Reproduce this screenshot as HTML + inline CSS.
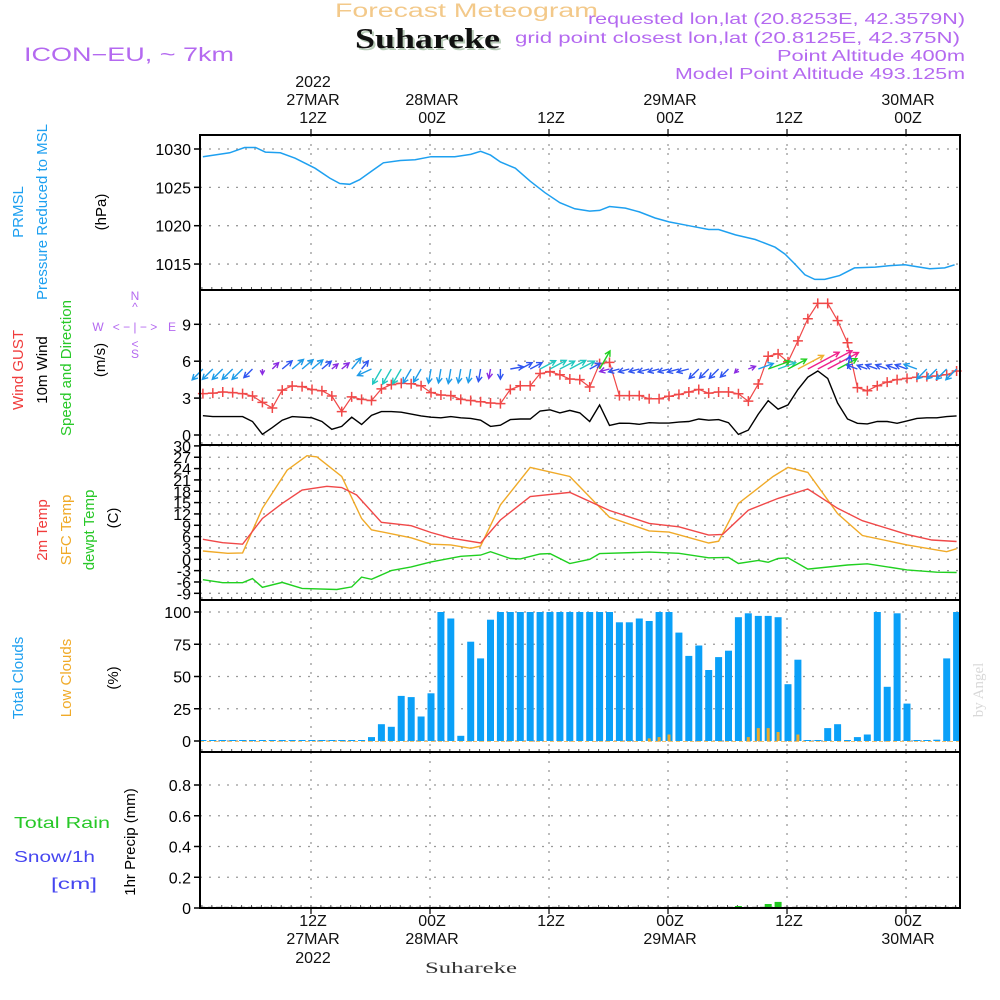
<!DOCTYPE html>
<html><head><meta charset="utf-8"><title>Meteogram Suhareke</title>
<style>
html,body{margin:0;padding:0;background:#fff;}
svg{display:block;font-family:"Liberation Sans","DejaVu Sans",sans-serif;}
</style></head>
<body>
<svg id="chart" width="1000" height="1000" viewBox="0 0 1000 1000">
<g id="header">
<text x="335" y="17" textLength="263" lengthAdjust="spacingAndGlyphs" font-size="19" fill="#f3c98a">Forecast Meteogram</text>
<text x="357" y="50" textLength="145" lengthAdjust="spacingAndGlyphs" font-size="29" font-weight="bold" font-family="'Liberation Serif',serif" fill="#b8ccb8">Suhareke</text>
<text x="355" y="48" textLength="145" lengthAdjust="spacingAndGlyphs" font-size="29" font-weight="bold" font-family="'Liberation Serif',serif" fill="#111">Suhareke</text>
<text x="24" y="61" textLength="210" lengthAdjust="spacingAndGlyphs" font-size="19" fill="#b469f0">ICON−EU, ~ 7km</text>
<text x="588" y="24" textLength="377" lengthAdjust="spacingAndGlyphs" font-size="16" fill="#b469f0">requested lon,lat (20.8253E, 42.3579N)</text>
<text x="515" y="43" textLength="445" lengthAdjust="spacingAndGlyphs" font-size="16" fill="#b469f0">grid point closest lon,lat (20.8125E, 42.375N)</text>
<text x="777" y="61" textLength="188" lengthAdjust="spacingAndGlyphs" font-size="16" fill="#b469f0">Point Altitude 400m</text>
<text x="675" y="79" textLength="290" lengthAdjust="spacingAndGlyphs" font-size="16" fill="#b469f0">Model Point Altitude 493.125m</text>
</g>
<g id="grid"></g>
<g id="marks"></g>
<g id="frames"></g>
<g id="labels">
<text transform="translate(23,212) rotate(-90)" text-anchor="middle" font-size="15" fill="#1ea0f0">PRMSL</text>
<text transform="translate(47,212) rotate(-90)" text-anchor="middle" font-size="15" fill="#1ea0f0">Pressure Reduced to MSL</text>
<text transform="translate(106,212) rotate(-90)" text-anchor="middle" font-size="15" fill="#000">(hPa)</text>
<text transform="translate(23,370) rotate(-90)" text-anchor="middle" font-size="15" fill="#f03c3c">Wind GUST</text>
<text transform="translate(47,370) rotate(-90)" text-anchor="middle" font-size="15" fill="#000">10m Wind</text>
<text transform="translate(71,368) rotate(-90)" text-anchor="middle" font-size="15" fill="#28c828">Speed and Direction</text>
<text transform="translate(105,360) rotate(-90)" text-anchor="middle" font-size="15" fill="#000">(m/s)</text>
<g font-size="12" fill="#b469f0">
<text x="135" y="300" text-anchor="middle">N</text>
<text x="135" y="311" text-anchor="middle">^</text>
<text x="98" y="331" text-anchor="middle">W</text>
<text x="135" y="331" text-anchor="middle">&lt; − | − &gt;</text>
<text x="172" y="331" text-anchor="middle">E</text>
<text x="135" y="348" text-anchor="middle">&lt;</text>
<text x="135" y="358" text-anchor="middle">S</text>
</g>
<text transform="translate(47,530) rotate(-90)" text-anchor="middle" font-size="15" fill="#f03c3c">2m Temp</text>
<text transform="translate(71,530) rotate(-90)" text-anchor="middle" font-size="15" fill="#f0aa28">SFC Temp</text>
<text transform="translate(94,530) rotate(-90)" text-anchor="middle" font-size="15" fill="#28c828">dewpt Temp</text>
<text transform="translate(118,518) rotate(-90)" text-anchor="middle" font-size="15" fill="#000">(C)</text>
<text transform="translate(23,678) rotate(-90)" text-anchor="middle" font-size="15" fill="#1ea0f0">Total Clouds</text>
<text transform="translate(71,678) rotate(-90)" text-anchor="middle" font-size="15" fill="#f0aa28">Low Clouds</text>
<text transform="translate(118,678) rotate(-90)" text-anchor="middle" font-size="15" fill="#000">(%)</text>
<text x="14" y="828" textLength="96" lengthAdjust="spacingAndGlyphs" font-size="16" fill="#28c828">Total  Rain</text>
<text x="14" y="862" textLength="81" lengthAdjust="spacingAndGlyphs" font-size="16" fill="#4646f0">Snow/1h</text>
<text x="51" y="889" textLength="46" lengthAdjust="spacingAndGlyphs" font-size="16" fill="#4646f0">[cm]</text>
<text transform="translate(135,842) rotate(-90)" text-anchor="middle" font-size="15" fill="#000">1hr Precip (mm)</text>
<text transform="translate(983,690) rotate(-90)" text-anchor="middle" font-size="15" font-family="'Liberation Serif',serif" fill="#d8d8d8">by Angel</text>
<text x="425" y="973" textLength="92" lengthAdjust="spacingAndGlyphs" font-size="16" font-family="'Liberation Serif',serif" fill="#333">Suhareke</text>
</g>
</svg>
<script>
// ---- data ----
const timeTickHours = [-12, 0, 12, 24, 36, 48];
const timeTickTop = [["2022","27MAR","12Z"],["","28MAR","00Z"],["","","12Z"],["","29MAR","00Z"],["","","12Z"],["","30MAR","00Z"]];
const timeTickBottom = [["12Z","27MAR","2022"],["00Z","28MAR",""],["12Z","",""],["00Z","29MAR",""],["12Z","",""],["00Z","30MAR",""]];

const pressureHours = [-23,-20.3,-18.8,-17.7,-16.7,-15.2,-13.7,-11.7,-10.2,-9.2,-8.2,-7.2,-5.9,-4.8,-3.1,-1.6,0,2.4,4,5,6,7,8.5,10,11.5,13,14.5,16,17,18,19.6,21,22.6,24,26,28,29,30.7,32.7,34.7,35.7,36.7,37.7,38.7,39.7,41.2,42.7,44.8,46.3,47.8,48.8,50.3,51.8,52.8];
const pressureValues = [1029,1029.5,1030.2,1030.2,1029.6,1029.5,1028.8,1027.5,1026.2,1025.5,1025.4,1026.0,1027.2,1028.2,1028.5,1028.6,1029.0,1029.0,1029.3,1029.7,1029.2,1028.3,1027.5,1025.8,1024.3,1023.0,1022.2,1021.9,1022.0,1022.5,1022.3,1021.8,1021.0,1020.5,1020.0,1019.5,1019.5,1018.8,1018.2,1017.2,1016.3,1015.0,1013.6,1013.0,1013.0,1013.5,1014.5,1014.6,1014.8,1014.9,1014.7,1014.4,1014.5,1014.9];
const pressureTicks = [1015,1020,1025,1030];

const firstHour = -23; // hourly series start (hours relative to 28MAR 00Z)
const gustValues = [3.36,3.4,3.5,3.45,3.36,3.17,2.65,2.2,3.65,3.98,3.93,3.7,3.6,3.17,1.9,3.1,2.9,2.8,3.75,4.1,4.2,4.17,4.0,3.45,3.25,3.2,2.9,2.8,2.7,2.6,2.55,3.7,4.0,4.0,5.0,5.15,4.9,4.55,4.5,3.9,5.8,5.9,3.2,3.2,3.2,2.95,2.95,3.15,3.3,3.5,3.7,3.4,3.5,3.5,3.35,2.75,4.15,6.4,6.6,5.95,7.65,9.45,10.7,10.7,9.3,7.5,3.85,3.6,4.0,4.3,4.5,4.6,4.7,4.75,4.8,4.9,5.2];
const windValues = [1.57,1.5,1.5,1.5,1.5,1.1,0.06,0.6,1.2,1.5,1.45,1.4,1.1,0.46,0.7,1.45,0.85,1.6,1.9,1.9,1.85,1.7,1.55,1.45,1.4,1.5,1.4,1.35,1.2,0.7,0.8,1.25,1.3,1.3,1.95,2.05,1.8,2.0,1.8,1.1,2.44,0.78,0.96,0.95,0.87,1.0,0.97,0.97,1.05,1.1,1.3,1.2,1.25,1.0,0.05,0.4,1.7,2.8,2.1,2.45,3.7,4.7,5.2,4.6,2.6,1.3,0.95,0.9,1.1,1.1,0.95,1.15,1.35,1.4,1.4,1.5,1.55];
const windDirTo = [225,225,225,225,225,225,180,45,50,50,50,50,50,50,50,40,40,245,210,210,210,210,210,190,190,190,190,190,190,190,180,80,62,62,62,62,62,62,62,62,30,255,255,255,255,255,255,255,255,255,225,225,225,225,225,70,70,70,70,62,62,62,62,62,62,10,290,290,290,290,290,290,290,225,225,225,225];
const windTicks = [0,3,6,9];

const t2mHours = [-23,-21,-19,-17,-15,-13,-10.5,-9,-7.5,-5,-2,0,2,5,7,10,14,18,22,25,28,29.4,32,35,38,41,43.5,48,50.5,53];
const t2mValues = [5.3,4.4,4.0,10.8,14.8,18.3,19.3,19.0,17,9.8,8.9,7.1,5.6,4.3,10.4,16.6,17.7,12.9,9.5,8.6,6.4,6.6,13,16.1,18.6,13.5,10.2,6.6,5.1,4.7];
const sfcHours = [-23,-20.5,-19,-17,-14.5,-12.5,-11.5,-9,-7,-6,-2,0,2,4,5,7,10,14,18,22,24,28,29,31,34.5,36,38,41,43.5,48,52,53];
const sfcValues = [2.2,1.6,1.7,13.5,23.6,27.4,27.1,21.9,10.8,7.8,5.7,4.0,3.8,2.9,3.5,14.4,24.3,21.9,11.1,7.5,7.2,4.3,4.8,14.8,21.9,24.3,23,12.1,6.3,3.8,2.0,2.8];
const dewHours = [-23,-21,-19,-18,-17,-15,-13,-9.5,-8,-7,-6,-4,-2,0,3,5,6,8,9,11,12,14,16,17,22,25,28,30,31,33,34,35,36,38,42,44,48,51,53];
const dewValues = [-5.4,-6.2,-6.2,-5.1,-7.4,-6.1,-7.7,-8.0,-7.3,-4.7,-5.3,-3.0,-2.0,-0.7,0.8,1.1,2,0.2,0.1,1.4,1.5,-1.1,0,1.5,1.9,1.6,0.4,0.5,-1.1,-0.3,-0.8,0.2,0.4,-2.6,-1.5,-1.2,-2.8,-3.4,-3.5];
const tempTicks = [30,27,24,21,18,15,12,9,6,3,0,-3,-6,-9];

const totalCloudValues = [0,0,0,0,0,0,0,0,0,0,0,0,0,0,0,0,0,3,13,11,35,34,19,37,100,95,4,77,64,94,100,100,100,100,100,100,100,100,100,100,100,100,92,92,95,93,100,100,84,66,74,55,65,70,96,99,97,97,96,44,63,0,0,10,13,0,3,5,100,42,99,29,0,0,1,64,100];
const lowCloudHours = [22,23,24,32,33,34,35,37];
const lowCloudValues = [2,3,5,3,10,10,7,5];
const cloudTicks = [0,25,50,75,100];

const rainHours = [31,33,34,35];
const rainValues = [0.013,0.006,0.026,0.04];
const precipTicks = [0,0.2,0.4,0.6,0.8];
const precipTickLabels = ["0","0.2","0.4","0.6","0.8"];

// ---- scales ----
const NS = "http://www.w3.org/2000/svg";
const X = h => 431 + h * 9.917;
const xLeft = 200, xRight = 960;
const panels = {
  pres: {top:135, bottom:290, y: v => 149 + (1030 - v) * 7.67},
  wind: {top:290, bottom:445, y: v => 435 - v * 12.3},
  temp: {top:445, bottom:600, y: v => 559.3 - v * 3.78},
  cloud:{top:600, bottom:752, y: v => 741 - v * 1.29},
  prec: {top:752, bottom:908, y: v => 908 - v * 153.75}
};
function mk(tag, attrs, parent) {
  const el = document.createElementNS(NS, tag);
  for (const k in attrs) el.setAttribute(k, attrs[k]);
  parent.appendChild(el);
  return el;
}
const grid = document.getElementById('grid');
const marks = document.getElementById('marks');
const frames = document.getElementById('frames');
const labels = document.getElementById('labels');

for (const key in panels) {
  const p = panels[key];
  timeTickHours.forEach(h => {
    const l = mk('line', {x1:X(h)-1, x2:X(h)-1, y1:p.top, y2:p.bottom, stroke:'#999', 'stroke-width':1.3, 'stroke-dasharray':'2,7'}, grid);
    
    
  });
  for (let h = -23; h <= 53; h++) {
    const t = mk('line', {x1:X(h)-1, x2:X(h)-1, y1:p.bottom-3, y2:p.bottom, stroke:'#555', 'stroke-width':1}, grid);
    
    
  }
}
function yAxis(p, ticks, texts, name) {
  ticks.forEach((v, i) => {
    const y = p.y(v);
    const g = mk('line', {x1:xLeft, x2:xRight, y1:y, y2:y, stroke:'#999', 'stroke-width':1.3, 'stroke-dasharray':'2,7'}, grid);
    
    
    const t = mk('line', {x1:xLeft-6, x2:xLeft, y1:y, y2:y, stroke:'#000', 'stroke-width':1.5}, frames);
    
    
    const tx = mk('text', {x:xLeft-9, y:y+6, 'text-anchor':'end', 'font-size':16, fill:'#000'}, labels);
    tx.textContent = texts ? texts[i] : String(v);
    
    
  });
}
yAxis(panels.pres, pressureTicks, null, 'pressure-axis');
yAxis(panels.wind, windTicks, null, 'wind-axis');
yAxis(panels.temp, tempTicks, null, 'temp-axis');
yAxis(panels.cloud, cloudTicks, null, 'cloud-axis');
yAxis(panels.prec, precipTicks, precipTickLabels, 'precip-axis');

timeTickHours.forEach((h, i) => {
  const x = X(h) + 1;
  [87, 105, 123].forEach((yy, j) => {
    if (!timeTickTop[i][j]) return;
    const t = mk('text', {x:x, y:yy, 'text-anchor':'middle', 'font-size':16, fill:'#111'}, labels);
    t.textContent = timeTickTop[i][j];
    
    
  });
  [926, 944, 963].forEach((yy, j) => {
    if (!timeTickBottom[i][j]) return;
    const t = mk('text', {x:x, y:yy, 'text-anchor':'middle', 'font-size':16, fill:'#111'}, labels);
    t.textContent = timeTickBottom[i][j];
    
    
  });
  const tk = mk('line', {x1:X(h)-1, x2:X(h)-1, y1:129, y2:135, stroke:'#000', 'stroke-width':1.2}, frames);
  
  
  const bk = mk('line', {x1:X(h)-1, x2:X(h)-1, y1:908, y2:914, stroke:'#000', 'stroke-width':1.2}, frames);
  
  
});

function linePath(hours, vals, p) {
  return hours.map((h, i) => (i ? 'L' : 'M') + X(h).toFixed(1) + ',' + p.y(vals[i]).toFixed(1)).join(' ');
}
const hourly = arr => arr.map((_, i) => firstHour + i);

const pl = mk('path', {d:linePath(pressureHours, pressureValues, panels.pres), fill:'none', stroke:'#1ea0f0', 'stroke-width':1.5}, marks);



const wl = mk('path', {d:linePath(hourly(windValues), windValues, panels.wind), fill:'none', stroke:'#000', 'stroke-width':1.4}, marks);


const gl = mk('path', {d:linePath(hourly(gustValues), gustValues, panels.wind), fill:'none', stroke:'#f04848', 'stroke-width':1.2}, marks);


gustValues.forEach((v, i) => {
  const x = X(firstHour + i), y = panels.wind.y(v);
  const c = mk('path', {d:`M${x-5},${y} h10 M${x},${y-5} v10`, stroke:'#f04848', 'stroke-width':1.5}, marks);
  
  
});
function arrowColor(w) {
  if (w < 0.8) return '#8a2be2';
  if (w < 1.35) return '#2f55f0';
  if (w < 1.8) return '#1e9be8';
  if (w < 2.2) return '#20c8c0';
  if (w < 3) return '#20d020';
  if (w < 4) return '#f0b030';
  return '#f0208a';
}
windDirTo.forEach((d, i) => {
  const w = windValues[i];
  const len = 5 + 6.5 * w;
  const x0 = X(firstHour + i), y0 = 369;
  const a = d * Math.PI / 180;
  const x1 = x0 + len * Math.sin(a), y1 = y0 - len * Math.cos(a);
  const hl = Math.min(6, 3 + len * 0.3);
  const b1 = a + Math.PI - 0.5, b2 = a + Math.PI + 0.5;
  const col = arrowColor(w);
  const ar = mk('path', {d:`M${x0.toFixed(1)},${y0} L${x1.toFixed(1)},${y1.toFixed(1)} M${(x1+hl*Math.sin(b1)).toFixed(1)},${(y1-hl*Math.cos(b1)).toFixed(1)} L${x1.toFixed(1)},${y1.toFixed(1)} L${(x1+hl*Math.sin(b2)).toFixed(1)},${(y1-hl*Math.cos(b2)).toFixed(1)}`, fill:'none', stroke:col, 'stroke-width':1.4}, marks);
  
  
});

const sl = mk('path', {d:linePath(sfcHours, sfcValues, panels.temp), fill:'none', stroke:'#f0aa28', 'stroke-width':1.4}, marks);


const tl = mk('path', {d:linePath(t2mHours, t2mValues, panels.temp), fill:'none', stroke:'#f04848', 'stroke-width':1.4}, marks);


const dl = mk('path', {d:linePath(dewHours, dewValues, panels.temp), fill:'none', stroke:'#20d020', 'stroke-width':1.4}, marks);



const cp = panels.cloud;
totalCloudValues.forEach((v, i) => {
  const x = X(firstHour + i);
  const h = Math.max(1, cp.y(0) - cp.y(v));
  const r = mk('rect', {x:(x-3.5).toFixed(1), y:(cp.y(0)-h).toFixed(1), width:7, height:h.toFixed(1), fill:'#0aa0f8'}, marks);
  
  
});
lowCloudHours.forEach((hr, i) => {
  const x = X(hr);
  const h = cp.y(0) - cp.y(lowCloudValues[i]);
  const r = mk('rect', {x:(x-1.5).toFixed(1), y:(cp.y(0)-h).toFixed(1), width:3, height:h.toFixed(1), fill:'#f0aa28'}, marks);
  
  
});
const lb = mk('line', {x1:xLeft, x2:xRight, y1:cp.y(0)+0.5, y2:cp.y(0)+0.5, stroke:'#f0c070', 'stroke-width':1, 'stroke-dasharray':'4,3'}, marks);



const pp = panels.prec;
const zb = mk('line', {x1:xLeft, x2:xRight, y1:pp.y(0)-0.5, y2:pp.y(0)-0.5, stroke:'#000', 'stroke-width':1.2, 'stroke-dasharray':'5,3'}, marks);


rainHours.forEach((hr, i) => {
  const x = X(hr);
  const h = pp.y(0) - pp.y(rainValues[i]);
  const r = mk('rect', {x:(x-3.5).toFixed(1), y:(pp.y(0)-h).toFixed(1), width:7, height:h.toFixed(1), fill:'#20c820'}, marks);
  
  
});

for (const key in panels) {
  const p = panels[key];
  const f = mk('rect', {x:xLeft, y:p.top, width:xRight-xLeft, height:p.bottom-p.top, fill:'none', stroke:'#000', 'stroke-width':2}, frames);
  
  
}
</script>
</body></html>
